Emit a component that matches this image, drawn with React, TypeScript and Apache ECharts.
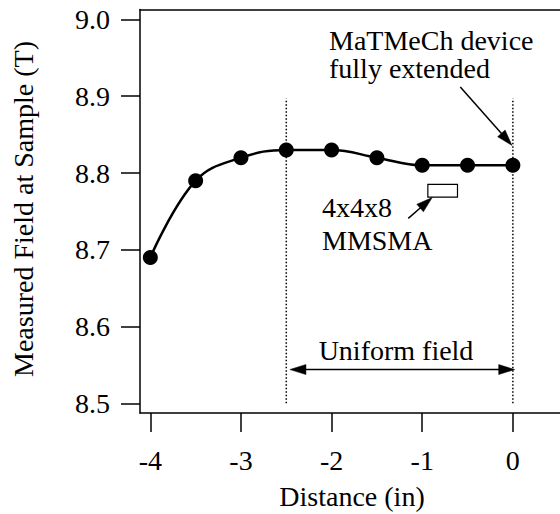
import React, { useEffect, useRef } from "react";
import * as echarts from "echarts";

// Measured field along the bore versus insertion distance
const distanceIn = [-4, -3.5, -3, -2.5, -2, -1.5, -1, -0.5, 0];
const fieldT = [8.69, 8.79, 8.82, 8.83, 8.83, 8.82, 8.81, 8.81, 8.81];

const xTicks = [-4, -3, -2, -1, 0];
const yTicks = [8.5, 8.6, 8.7, 8.8, 8.9, 9.0];

// Annotation arrows: [fromX, fromY, toX, toY, heads (1 = tip only, 2 = both ends)]
const arrows = [
  [-2.46, 8.544, 0.02, 8.544, 2],
  [-0.58, 8.912, -0.01, 8.836, 1],
  [-1.154, 8.741, -0.89, 8.768, 1],
];

// Dotted boundaries of the uniform-field region: [x, fromY, toY]
const boundaries = [
  [-2.5, 8.5, 8.897],
  [0, 8.5, 8.897],
];

const FAMILY = "'Liberation Serif', 'Times New Roman', Times, serif";
const INK = "#000";

export default function App() {
  const ref = useRef<HTMLDivElement>(null);

  useEffect(() => {
    if (!ref.current) return;
    const chart = echarts.init(ref.current, null, { renderer: "svg" });

    const axisLine = { show: true, onZero: false, lineStyle: { color: INK, width: 1.5 } };
    const labelStyle = { fontSize: 28, fontFamily: FAMILY, color: INK };
    const textStyle = { fontSize: 28, fontFamily: FAMILY, fill: INK };

    const HEAD_LEN = 16;
    const HEAD_W = 10;

    const renderArrow = (_params: any, api: any) => {
      const p1 = api.coord([api.value(0), api.value(1)]);
      const p2 = api.coord([api.value(2), api.value(3)]);
      const both = api.value(4) === 2;
      const dx = p2[0] - p1[0];
      const dy = p2[1] - p1[1];
      const len = Math.hypot(dx, dy) || 1;
      const ux = dx / len;
      const uy = dy / len;
      const nx = -uy;
      const ny = ux;
      const head = (tip: number[], sx: number, sy: number) => ({
        type: "polygon",
        shape: {
          points: [
            [tip[0], tip[1]],
            [tip[0] - sx * HEAD_LEN + nx * HEAD_W / 2, tip[1] - sy * HEAD_LEN + ny * HEAD_W / 2],
            [tip[0] - sx * HEAD_LEN - nx * HEAD_W / 2, tip[1] - sy * HEAD_LEN - ny * HEAD_W / 2],
          ],
        },
        style: { fill: INK, stroke: INK, lineWidth: 0.5 },
      });
      const start = both ? [p1[0] + ux * HEAD_LEN * 0.8, p1[1] + uy * HEAD_LEN * 0.8] : p1;
      const end = [p2[0] - ux * HEAD_LEN * 0.8, p2[1] - uy * HEAD_LEN * 0.8];
      const children: any[] = [
        {
          type: "line",
          shape: { x1: start[0], y1: start[1], x2: end[0], y2: end[1] },
          style: { stroke: INK, lineWidth: 1.5 },
        },
        head(p2, ux, uy),
      ];
      if (both) children.push(head(p1, -ux, -uy));
      return { type: "group", children };
    };

    const renderBoundary = (_params: any, api: any) => {
      const a = api.coord([api.value(0), api.value(1)]);
      const b = api.coord([api.value(0), api.value(2)]);
      return {
        type: "line",
        shape: { x1: a[0], y1: a[1], x2: b[0], y2: b[1] },
        style: { stroke: INK, lineWidth: 1.5, lineDash: [1.5, 2] },
      };
    };

    chart.setOption({
      animation: false,
      backgroundColor: "#fff",
      grid: { left: 140, right: 0, top: 9.5, bottom: 101, containLabel: false },
      xAxis: [
        {
          type: "value",
          min: -4.114,
          max: 0.52,
          axisLine,
          axisTick: {
            show: true,
            inside: false,
            length: 19,
            customValues: xTicks,
            lineStyle: { color: INK, width: 1.5 },
          },
          axisLabel: {
            ...labelStyle,
            margin: 33,
            customValues: xTicks,
            formatter: (v: number) => String(v),
          },
          splitLine: { show: false },
        },
        {
          type: "value",
          position: "top",
          min: -4.114,
          max: 0.52,
          axisLine,
          axisTick: { show: false },
          axisLabel: { show: false },
          splitLine: { show: false },
        },
      ],
      yAxis: {
        type: "value",
        position: "left",
        min: 8.4874,
        max: 9.013,
        axisLine,
        axisTick: {
          show: true,
          inside: false,
          length: 19,
          customValues: yTicks,
          lineStyle: { color: INK, width: 1.5 },
        },
        axisLabel: {
          ...labelStyle,
          margin: 30,
          customValues: yTicks,
          formatter: (v: number) => v.toFixed(1),
        },
        splitLine: { show: false },
      },
      series: [
        {
          type: "custom",
          name: "Uniform region limits",
          renderItem: renderBoundary,
          data: boundaries,
          silent: true,
          z: 2,
        },
        {
          type: "line",
          name: "Measured field",
          data: distanceIn.map((x, i) => [x, fieldT[i]]),
          smooth: 0.4,
          symbol: "circle",
          symbolSize: 15,
          itemStyle: { color: INK },
          lineStyle: { color: INK, width: 2.5 },
          z: 5,
          markArea: {
            silent: true,
            itemStyle: { color: "#fff", borderColor: INK, borderWidth: 1.2 },
            label: { show: false },
            data: [[{ coord: [-0.938, 8.7853] }, { coord: [-0.611, 8.7687] }]],
          },
        },
        {
          type: "custom",
          name: "Arrows",
          renderItem: renderArrow,
          data: arrows,
          silent: true,
          z: 4,
        },
      ],
      graphic: [
        {
          type: "text",
          x: 23.5,
          y: 209,
          rotation: Math.PI / 2,
          style: {
            text: "Measured Field at Sample (T)",
            ...textStyle,
            align: "center",
            verticalAlign: "middle",
          },
        },
        {
          type: "text",
          x: 352,
          y: 496.5,
          style: { text: "Distance (in)", ...textStyle, align: "center", verticalAlign: "middle" },
        },
        {
          type: "text",
          x: 329,
          y: 40.5,
          style: { text: "MaTMeCh device", ...textStyle, align: "left", verticalAlign: "middle" },
        },
        {
          type: "text",
          x: 329,
          y: 68.5,
          style: { text: "fully extended", ...textStyle, align: "left", verticalAlign: "middle" },
        },
        {
          type: "text",
          x: 322,
          y: 207.5,
          style: { text: "4x4x8", ...textStyle, align: "left", verticalAlign: "middle" },
        },
        {
          type: "text",
          x: 322,
          y: 240.5,
          style: { text: "MMSMA", ...textStyle, align: "left", verticalAlign: "middle" },
        },
        {
          type: "text",
          x: 396,
          y: 350.5,
          style: { text: "Uniform field", ...textStyle, align: "center", verticalAlign: "middle" },
        },
      ],
    });

    return () => chart.dispose();
  }, []);

  return (
    <div
      ref={ref}
      style={{ position: "fixed", left: 0, top: 0, width: 560, height: 514, background: "#fff" }}
    />
  );
}
